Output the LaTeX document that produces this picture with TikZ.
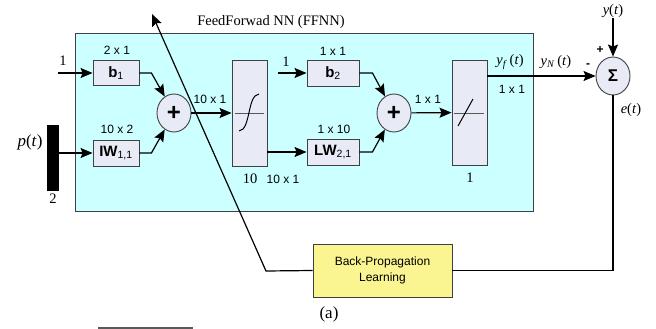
\documentclass[tikz,border=0pt]{standalone}
\usepackage{fontspec}
\setmainfont{Liberation Serif}
\newfontfamily\arial{Liberation Sans}
\usetikzlibrary{arrows.meta,shapes.geometric}
\definecolor{cyanfill}{HTML}{CCFFFF}
\definecolor{boxfill}{HTML}{E8EAF6}
\definecolor{boxgray}{HTML}{404040}
\definecolor{yellowfill}{HTML}{FAF591}
\begin{document}
\begin{tikzpicture}[x=1pt,y=-1pt,
  blk/.style={draw=boxgray, fill=boxfill, line width=0.9pt, inner sep=0pt, font=\arial\bfseries\fontsize{15}{15}\selectfont},
  sumnode/.style={ellipse, draw=boxgray, fill=boxfill, line width=0.9pt, minimum width=34pt, minimum height=38pt, inner sep=0pt},
  arr/.style={line width=1.2pt, -{Stealth[length=12pt,width=10pt,inset=2pt]}},
  plain/.style={line width=1.2pt},
  lbl/.style={font=\arial\fontsize{12}{13}\selectfont, inner sep=0pt},
  tlbl/.style={font=\fontsize{14.5}{15}\selectfont, inner sep=0pt},
  symb/.style={line width=1pt, gray!70!black}]
\useasboundingbox (0,0) rectangle (656,329);
% FFNN frame
\node[draw=boxgray, fill=cyanfill, line width=0.9pt, minimum width=458pt, minimum height=178pt, anchor=north west, inner sep=0pt] (ffnn) at (75,33) {};
\node[tlbl] (title) at (271,22) {FeedForwad NN (FFNN)};
% blocks
\node[blk, minimum width=46pt, minimum height=25pt] (b1) at (116,73) {b\textsubscript{\mdseries 1}};
\node[blk, minimum width=46pt, minimum height=26pt] (IW) at (116,153) {IW\textsubscript{\mdseries 1,1}};
\node[sumnode] (sum1) at (174,113) {\arial\bfseries\fontsize{24}{24}\selectfont +};
\node[blk, minimum width=35pt, minimum height=106pt] (sig) at (249.5,113) {};
\node[blk, minimum width=52pt, minimum height=26pt] (b2) at (333,73) {b\textsubscript{\mdseries 2}};
\node[blk, minimum width=52pt, minimum height=26pt] (LW) at (333,152) {LW\textsubscript{\mdseries 2,1}};
\node[sumnode] (sum2) at (394,113) {\arial\bfseries\fontsize{24}{24}\selectfont +};
\node[blk, minimum width=35pt, minimum height=105pt] (lin) at (469.5,112.5) {};
\node[sumnode] (Sig) at (613,76) {\arial\bfseries\fontsize{17}{17}\selectfont Σ};
\node[fill=black, minimum width=12pt, minimum height=66pt, inner sep=0pt] (bar) at (53,158) {};
\node[draw=boxgray, fill=yellowfill, line width=0.9pt, minimum width=139pt, minimum height=53pt, inner sep=0pt, align=center, font=\arial\fontsize{12}{16}\selectfont] (bp) at (382.5,270.5) {Back-Propagation\\Learning};
% transfer symbols
\draw[symb] (235,113) -- (264,113);
\draw[line width=1pt] (239,131) .. controls (251,130) and (247,95) .. (259,94);
\draw[symb] (454,113) -- (484,113);
\draw[line width=1pt] (458,126) -- (473,99);
% coordinates
\coordinate (in1) at (58,73);
\coordinate (in2) at (278,73);
\coordinate (c2) at (266,271);
\coordinate (tip) at (152,14);
% labels
\node[tlbl] (yt) at (613,11) {\textit{y}(\textit{t})};
\node[tlbl] (l1a) at (63,61) {1};
\node[tlbl] (l1b) at (286,62) {1};
\node[tlbl, font=\fontsize{17}{17}\selectfont] (pt) at (30,142) {\textit{p}(\textit{t})};
\node[tlbl] (l2) at (53,199) {2};
\node[lbl] (d1) at (117,50) {2 x 1};
\node[lbl] (d2) at (117,129) {10 x 2};
\node[lbl] (d3) at (210,99) {10 x 1};
\node[tlbl] (d4) at (250,179) {10};
\node[lbl] (d5) at (283,179) {10 x 1};
\node[lbl] (d6) at (333,51) {1 x 1};
\node[lbl] (d7) at (334,129) {1 x 10};
\node[lbl] (d8) at (428,99) {1 x 1};
\node[tlbl] (d9) at (470,178) {1};
\node[tlbl] (yf) at (510,62) {\textit{y}\textsubscript{\textit{f}}\,(\textit{t})};
\node[tlbl] (yN) at (556,62) {\textit{y}\textsubscript{\textit{N}}\,(\textit{t})};
\node[lbl] (d10) at (512,89) {1 x 1};
\node[lbl, font=\arial\bfseries\fontsize{12}{12}\selectfont] (plus) at (600,50) {+};
\node[lbl, font=\arial\bfseries\fontsize{12}{12}\selectfont] (minus) at (588,66) {-};
\node[tlbl] (et) at (631,110) {\textit{e}(\textit{t})};
\node[tlbl, font=\fontsize{17}{17}\selectfont] (cap) at (329,314) {(a)};
% connectors
\draw[arr] (in1) -- (b1);
\draw[arr] (bar.east |- IW.west) -- (IW.west);
\draw[arr] (b1.east) -- ++(12,0) -- (sum1);
\draw[arr] (IW.east) -- ++(12,0) -- (sum1);
\draw[arr] (sum1) -- (sig);
\draw[arr] (sig.east |- LW.west) -- (LW.west);
\draw[arr] (in2) -- (b2);
\draw[arr] (b2.east) -- ++(13,0) -- (sum2);
\draw[arr] (LW.east) -- ++(13,0) -- (sum2);
\draw[arr] (sum2) -- (lin);
\draw[arr] (lin.east |- Sig.west) -- (Sig.west);
\draw[arr] (yt) -- (Sig);
\draw[plain] (Sig.south) -- (Sig |- bp.east) -- (bp.east);
\draw[arr] (bp.west) -- (c2) -- (tip);
% stray gray line at bottom
\draw[line width=1.5pt, gray!70!black] (98,328) -- (193,328);
\end{tikzpicture}
\end{document}
